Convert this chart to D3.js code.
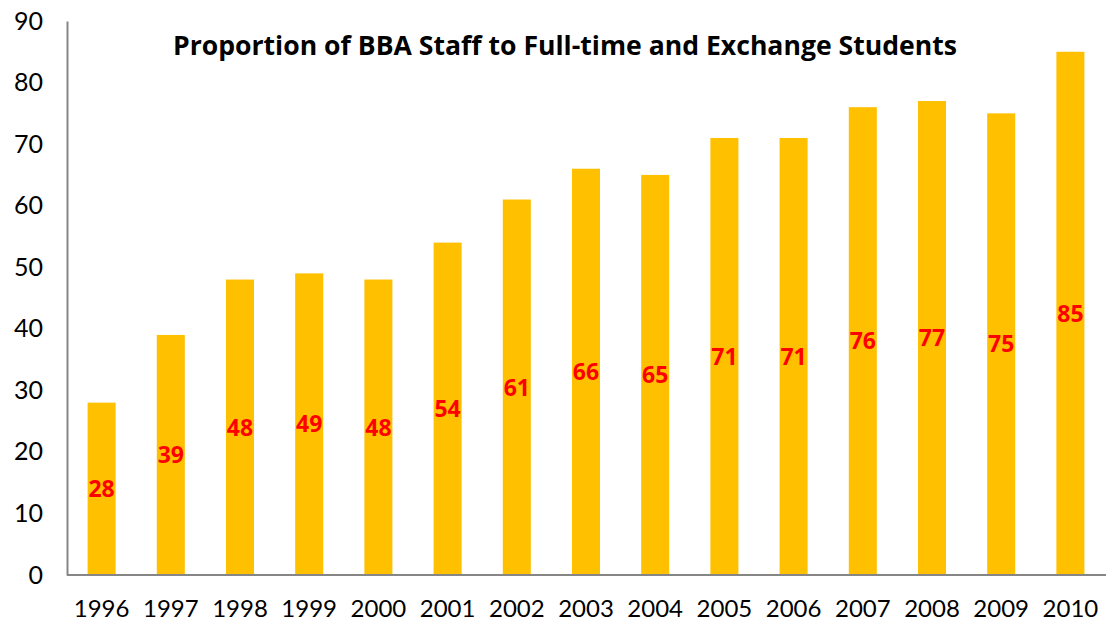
<!DOCTYPE html>
<html>
<head>
<meta charset="utf-8">
<script src="https://cdn.jsdelivr.net/npm/d3@7"></script>
<style>
  html, body { margin: 0; padding: 0; background: #fff; }
  svg text { font-family: Lato, "Open Sans", sans-serif; }
</style>
</head>
<body>
<svg id="chart" width="1106" height="623"></svg>
<script>
const years = ["1996","1997","1998","1999","2000","2001","2002","2003","2004","2005","2006","2007","2008","2009","2010"];
const ratios = [28, 39, 48, 49, 48, 54, 61, 66, 65, 71, 71, 76, 77, 75, 85];
const yTicks = [0, 10, 20, 30, 40, 50, 60, 70, 80, 90];
const title = "Proportion of BBA Staff to Full-time and Exchange Students";

const svg = d3.select("#chart");
const plotLeft = 67, plotRight = 1105, plotTop = 21, plotBottom = 575;

const x = d3.scaleBand().domain(years).range([plotLeft, plotRight]).paddingInner(0.595).paddingOuter(0.2975);
const y = d3.scaleLinear().domain([0, 90]).range([plotBottom, plotTop]);

// bars
svg.append("g").selectAll("rect").data(years).join("rect")
  .attr("x", d => x(d))
  .attr("width", x.bandwidth())
  .attr("y", (d, i) => y(ratios[i]))
  .attr("height", (d, i) => y(0) - y(ratios[i]))
  .attr("fill", "#FFC000");

// value labels at mid-height of each bar
svg.append("g").selectAll("text").data(years).join("text")
  .attr("x", d => x(d) + x.bandwidth() / 2)
  .attr("y", (d, i) => y(ratios[i] / 2))
  .attr("dy", "0.36em")
  .attr("text-anchor", "middle")
  .attr("font-weight", "bold")
  .attr("font-size", 23)
  .attr("fill", "#FF0000")
  .style("font-family", "'Open Sans', sans-serif")
  .text((d, i) => ratios[i]);

// y axis
const yAxis = svg.append("g").attr("transform", `translate(${plotLeft},0)`)
  .call(d3.axisLeft(y).tickValues(yTicks).tickSize(0).tickPadding(24));
yAxis.select(".domain").attr("stroke", "#868686").attr("stroke-width", 2);
yAxis.selectAll("text").attr("font-size", 25).attr("fill", "#000")
  .style("font-family", "Lato, 'Open Sans', sans-serif");

// x axis
const xAxis = svg.append("g").attr("transform", `translate(0,${plotBottom})`)
  .call(d3.axisBottom(x).tickSize(0).tickPadding(25));
xAxis.select(".domain").attr("stroke", "#868686").attr("stroke-width", 2)
  .attr("d", `M${plotLeft},0H${plotRight + 1}`);
xAxis.selectAll("text").attr("font-size", 24).attr("fill", "#000")
  .style("font-family", "Lato, 'Open Sans', sans-serif");

// title
svg.append("text")
  .attr("x", 565).attr("y", 55)
  .attr("text-anchor", "middle")
  .attr("font-weight", "bold")
  .attr("font-size", 26.6)
  .attr("fill", "#000")
  .style("font-family", "'Open Sans', sans-serif")
  .text(title);
</script>
</body>
</html>
